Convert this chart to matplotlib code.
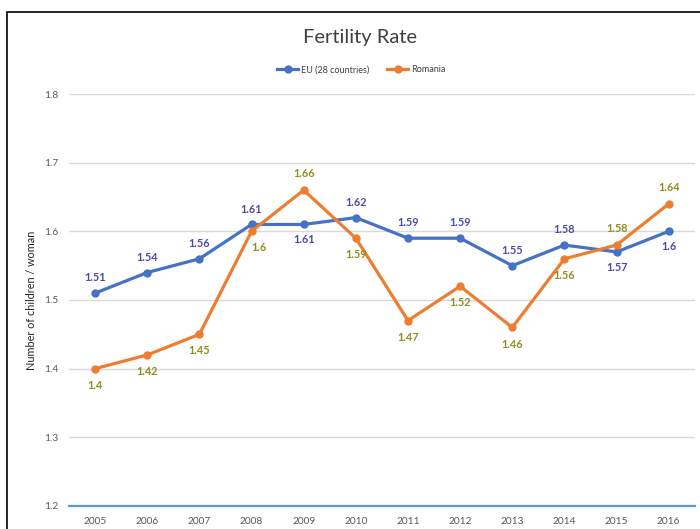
import matplotlib.pyplot as plt
from matplotlib.patches import Rectangle

plt.rcParams['font.family'] = ['Lato', 'DejaVu Sans']

years = ['2005', '2006', '2007', '2008', '2009', '2010', '2011', '2012', '2013', '2014', '2015', '2016']
eu = [1.51, 1.54, 1.56, 1.61, 1.61, 1.62, 1.59, 1.59, 1.55, 1.58, 1.57, 1.60]
romania = [1.40, 1.42, 1.45, 1.60, 1.66, 1.59, 1.47, 1.52, 1.46, 1.56, 1.58, 1.64]
eu_labels = ['1.51', '1.54', '1.56', '1.61', '1.61', '1.62', '1.59', '1.59', '1.55', '1.58', '1.57', '1.6']
ro_labels = ['1.4', '1.42', '1.45', '1.6', '1.66', '1.59', '1.47', '1.52', '1.46', '1.56', '1.58', '1.64']
# label placement: +1 above, -1 below
eu_pos = [1, 1, 1, 1, -1, 1, 1, 1, 1, 1, -1, -1]
ro_pos = [-1, -1, -1, -1, 1, -1, -1, -1, -1, -1, 1, 1]

eu_color = '#4472C4'
ro_color = '#ED7D31'
eu_lbl_color = '#4A4AA8'
ro_lbl_color = '#8E8E1C'

fig = plt.figure(figsize=(7, 5.29), dpi=100)
ax = fig.add_axes([0.0986, 0.0435, 0.894, 0.7788])

x = list(range(len(years)))
ax.plot(x, eu, color=eu_color, lw=2.3, marker='o', ms=5, label='EU (28 countries)', zorder=3)
ax.plot(x, romania, color=ro_color, lw=2.3, marker='o', ms=5, label='Romania', zorder=3)

for i in x:
    ax.annotate(eu_labels[i], (i, eu[i]), xytext=(0, 11 * eu_pos[i]), textcoords='offset points',
                ha='center', va='center', fontsize=7.8, fontweight='bold', color=eu_lbl_color)
    dx = 5 if i == 3 else 0
    ax.annotate(ro_labels[i], (i, romania[i]), xytext=(dx, 12 * ro_pos[i]), textcoords='offset points',
                ha='center', va='center', fontsize=7.8, fontweight='bold', color=ro_lbl_color)

ax.set_xlim(-0.5, len(years) - 0.5)
ax.set_ylim(1.2, 1.8)
ax.set_yticks([1.2, 1.3, 1.4, 1.5, 1.6, 1.7, 1.8])
ax.set_yticklabels(['1.2', '1.3', '1.4', '1.5', '1.6', '1.7', '1.8'])
ax.set_xticks(x)
ax.set_xticklabels(years)
ax.tick_params(length=0, labelsize=7.3, colors='#595959', pad=8)
ax.grid(axis='y', color='#D9D9D9', lw=1)
ax.set_axisbelow(True)
for s in ['top', 'right', 'left']:
    ax.spines[s].set_visible(False)
ax.spines['bottom'].set_color('#5B9BD5')
ax.spines['bottom'].set_linewidth(1.6)

ax.set_ylabel('Number of children / woman', fontsize=7.8, color='#262626', labelpad=5)

fig.text(0.514, 0.93, 'Fertility Rate', ha='center', va='center', fontsize=14.5, color='#404040')
fig.legend(loc='center', bbox_to_anchor=(0.516, 0.868), ncol=2, frameon=False, fontsize=6.5,
           handlelength=2.3, handletextpad=0.3, columnspacing=2.0, labelcolor='#404040')

fig.add_artist(Rectangle((0.01, -0.02), 1.2, 0.997, transform=fig.transFigure,
                         fill=False, edgecolor='black', lw=1.2))

fig.savefig('out.png', dpi=100)
